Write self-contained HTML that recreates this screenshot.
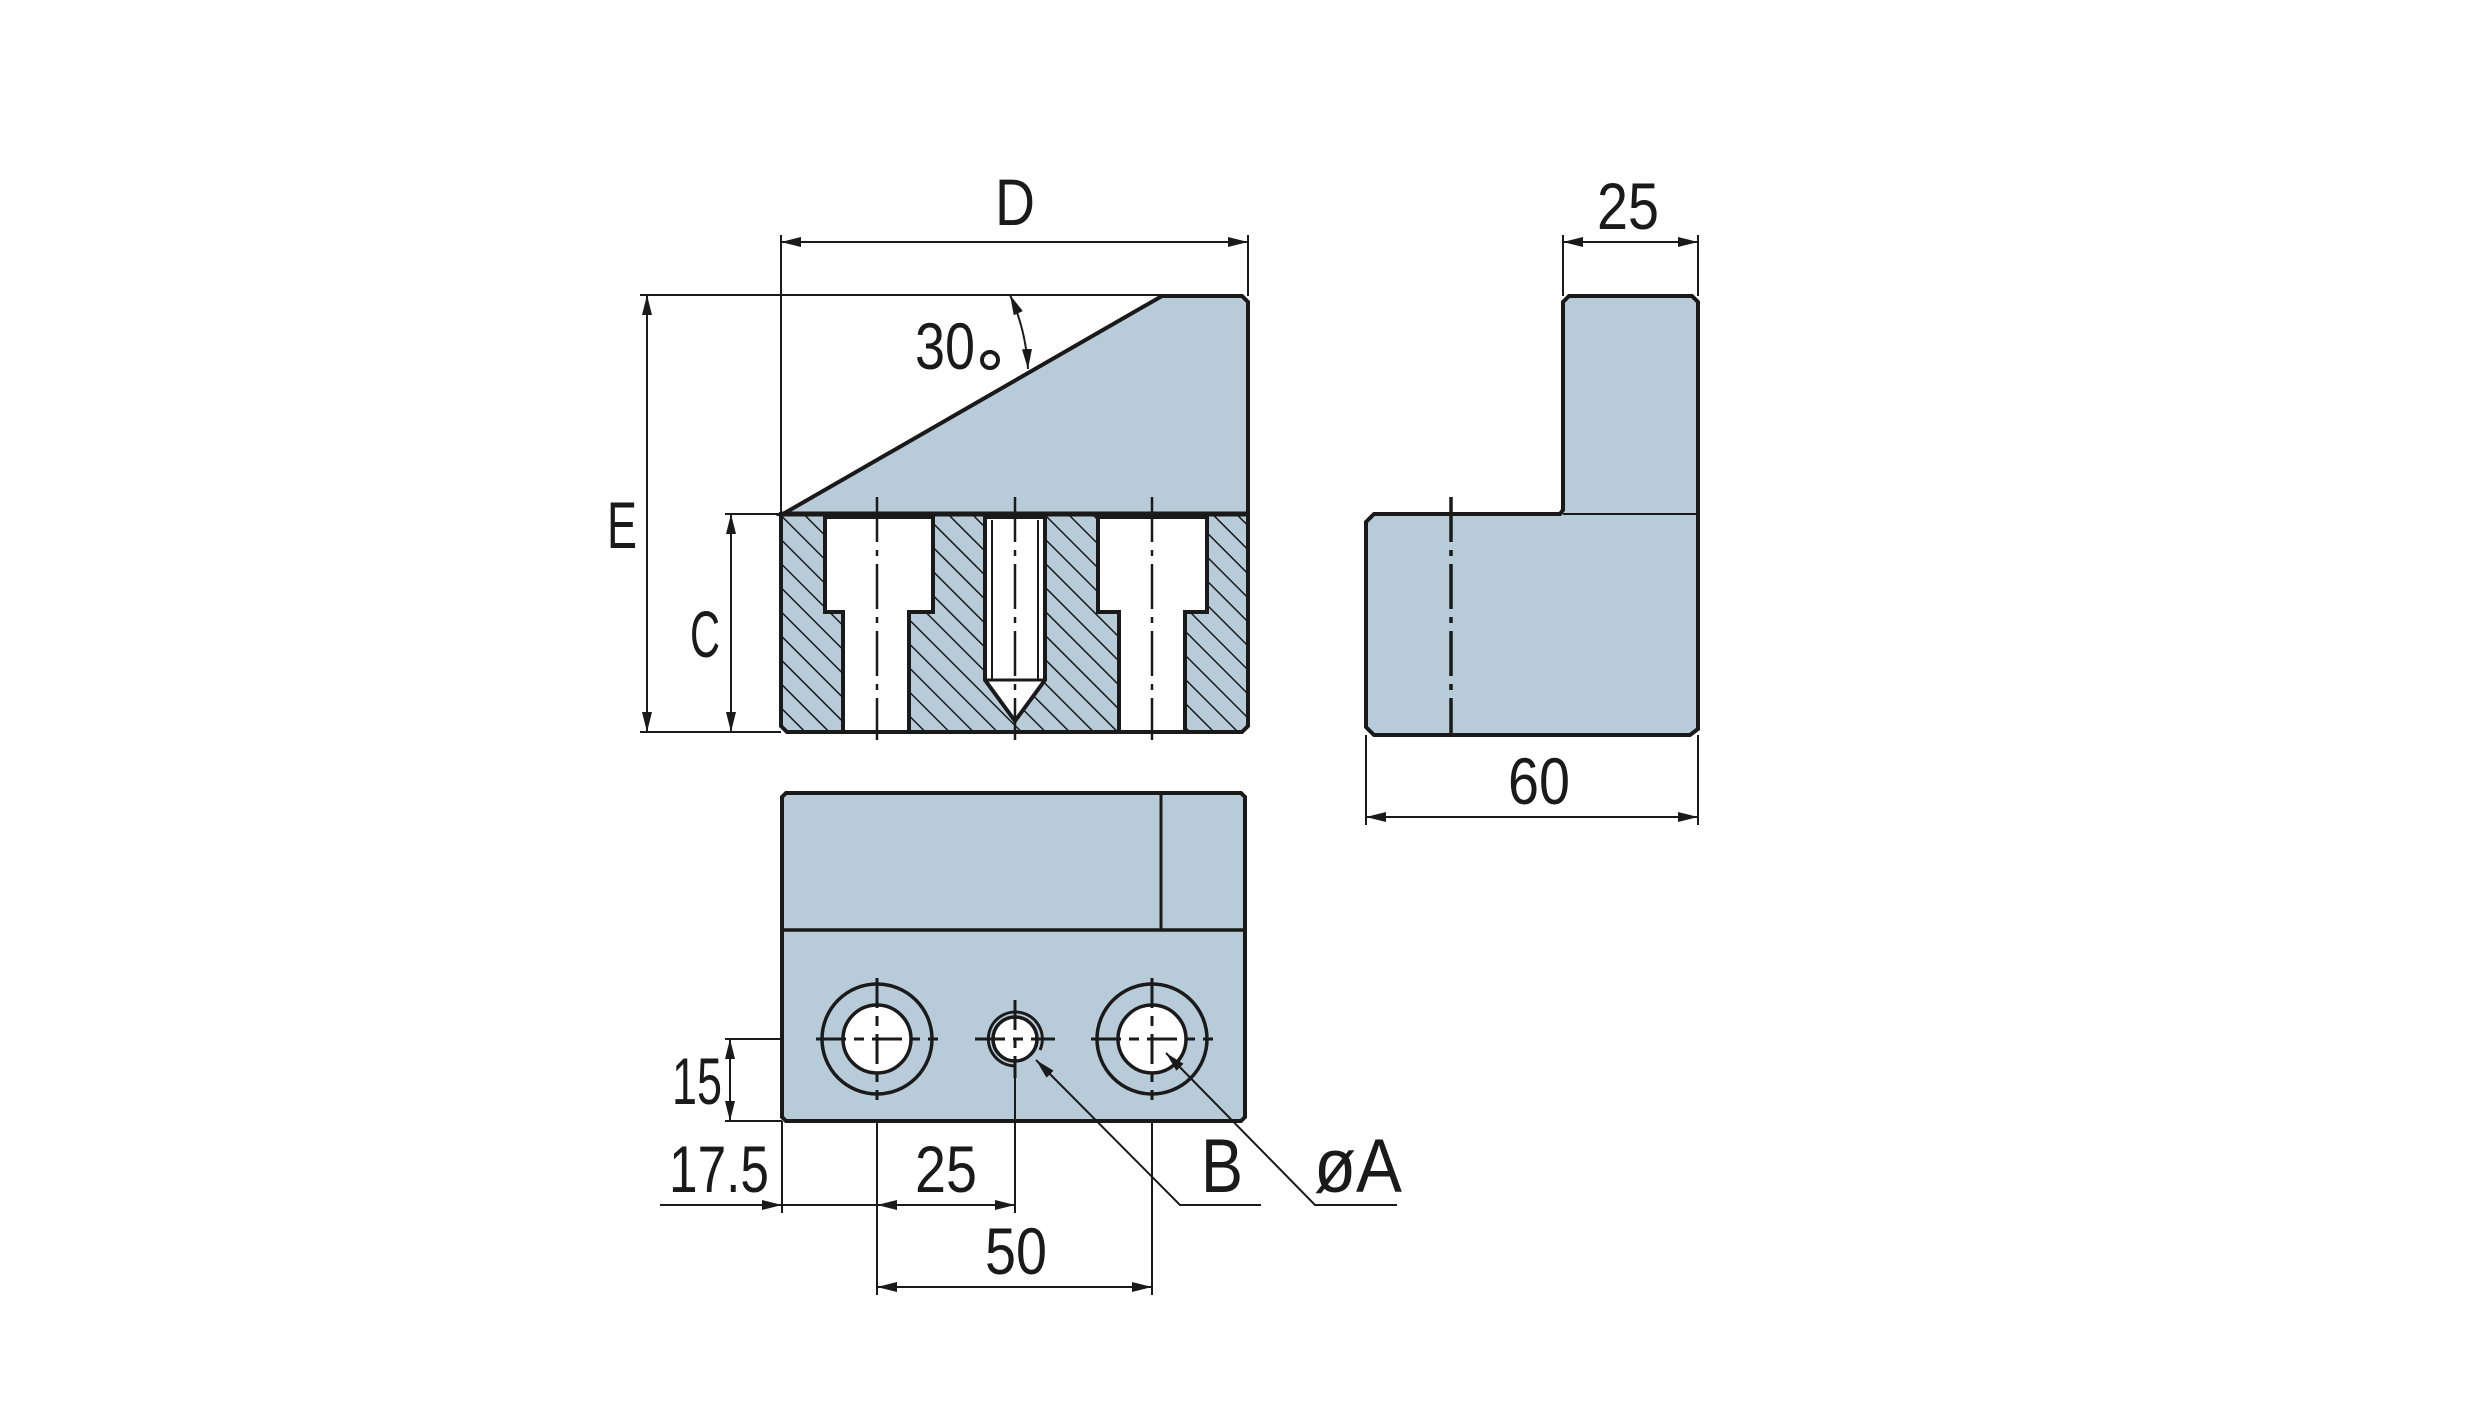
<!DOCTYPE html>
<html><head><meta charset="utf-8"><style>
html,body{margin:0;padding:0;background:#fff;}
svg{display:block;}
text{font-family:"Liberation Sans",sans-serif;fill:#1a1a1a;}
</style></head><body>
<svg width="2480" height="1417" viewBox="0 0 2480 1417" xmlns="http://www.w3.org/2000/svg">
<defs>
<pattern id="h" patternUnits="userSpaceOnUse" width="17" height="17" patternTransform="rotate(-45)">
<rect width="17" height="17" fill="#b8cbd8"/>
<line x1="0" y1="0" x2="0" y2="17" stroke="#1a1a1a" stroke-width="3"/>
</pattern>
<marker id="a" viewBox="0 0 20 10" refX="20" refY="5" markerWidth="20" markerHeight="10" markerUnits="userSpaceOnUse" orient="auto-start-reverse">
<path d="M0,0 L20,5 L0,10 Z" fill="#1a1a1a"/>
</marker>
</defs>

<g stroke="#1a1a1a" fill="none">
<path d="M783,514 L1162,296 L1242,296 L1248,302 L1248,514 Z" fill="#b8cbd8" stroke-width="4"/>
<path d="M781,514 L1248,514 L1248,726 L1242,732 L787,732 L781,726 Z" fill="url(#h)" stroke-width="4"/>
<path d="M825,517 L933,517 L933,612 L909,612 L909,732 L843,732 L843,612 L825,612 Z" fill="#fff" stroke-width="4"/>
<path d="M1098,517 L1207,517 L1207,612 L1185,612 L1185,732 L1119,732 L1119,612 L1098,612 Z" fill="#fff" stroke-width="4"/>
<path d="M985,517 L1045,517 L1045,680 L1015,721 L985,680 Z" fill="#fff" stroke-width="4"/>
<line x1="985" y1="680" x2="1045" y2="680" stroke-width="3"/>
<line x1="992" y1="520" x2="992" y2="680" stroke-width="2"/>
<line x1="1038" y1="520" x2="1038" y2="680" stroke-width="2"/>
<line x1="781" y1="514" x2="1248" y2="514" stroke-width="5"/>

<path d="M1569,296 L1692,296 L1698,302 L1698,729 L1690,735 L1374,735 L1366,727 L1366,522 L1374,514 L1560,514 L1563,510 L1563,302 Z" fill="#b8cbd8" stroke-width="4"/>
<line x1="1563" y1="514" x2="1698" y2="514" stroke-width="2"/>

<g stroke-width="2.5" stroke-dasharray="45,8,6,8">
<line x1="877" y1="497" x2="877" y2="740"/>
<line x1="1015" y1="497" x2="1015" y2="740"/>
<line x1="1152" y1="497" x2="1152" y2="740"/>
<line x1="1451" y1="497" x2="1451" y2="735" stroke-width="3.5"/>
</g>

<path d="M786,793 L1241,793 L1245,797 L1245,1117 L1241,1121 L786,1121 L782,1117 L782,797 Z" fill="#b8cbd8" stroke-width="4"/>
<line x1="782" y1="930" x2="1245" y2="930" stroke-width="3.5"/>
<line x1="1161" y1="793" x2="1161" y2="930" stroke-width="3"/>
<g stroke-width="3.5">
<circle cx="877" cy="1039" r="55"/>
<circle cx="877" cy="1039" r="34" fill="#fff"/>
<circle cx="1152" cy="1039" r="55"/>
<circle cx="1152" cy="1039" r="34" fill="#fff"/>
<circle cx="1015" cy="1039" r="22" fill="#fff"/>
<path d="M1040,1050 A27,27 0 1 0 1015,1066" stroke-width="3"/>
</g>
<g stroke-width="3" stroke-dasharray="30,8,10,8">
<line x1="816" y1="1039" x2="938" y2="1039"/>
<line x1="877" y1="978" x2="877" y2="1100"/>
<line x1="1091" y1="1039" x2="1213" y2="1039"/>
<line x1="1152" y1="978" x2="1152" y2="1100"/>
<line x1="975" y1="1039" x2="1055" y2="1039"/>
<line x1="1015" y1="1000" x2="1015" y2="1078"/>
</g>

<g stroke-width="2">
<line x1="781" y1="235" x2="781" y2="514"/>
<line x1="1248" y1="235" x2="1248" y2="296"/>
<line x1="781" y1="242" x2="1248" y2="242" marker-start="url(#a)" marker-end="url(#a)"/>
<line x1="640" y1="295" x2="1162" y2="295"/>
<line x1="640" y1="732" x2="781" y2="732"/>
<line x1="647" y1="295" x2="647" y2="732" marker-start="url(#a)" marker-end="url(#a)"/>
<line x1="725" y1="514" x2="781" y2="514"/>
<line x1="731" y1="514" x2="731" y2="732" marker-start="url(#a)" marker-end="url(#a)"/>
<path d="M1010,295 Q1026,330 1028,369" marker-start="url(#a)" marker-end="url(#a)"/>
<line x1="1563" y1="235" x2="1563" y2="296"/>
<line x1="1698" y1="235" x2="1698" y2="296"/>
<line x1="1563" y1="242" x2="1698" y2="242" marker-start="url(#a)" marker-end="url(#a)"/>
<line x1="1366" y1="735" x2="1366" y2="825"/>
<line x1="1698" y1="735" x2="1698" y2="825"/>
<line x1="1366" y1="817" x2="1698" y2="817" marker-start="url(#a)" marker-end="url(#a)"/>
<line x1="725" y1="1039" x2="782" y2="1039"/>
<line x1="725" y1="1121" x2="782" y2="1121"/>
<line x1="730" y1="1039" x2="730" y2="1121" marker-start="url(#a)" marker-end="url(#a)"/>
<line x1="782" y1="1121" x2="782" y2="1213"/>
<line x1="877" y1="1121" x2="877" y2="1295"/>
<line x1="1015" y1="1060" x2="1015" y2="1213"/>
<line x1="1152" y1="1121" x2="1152" y2="1295"/>
<line x1="660" y1="1205" x2="782" y2="1205" marker-end="url(#a)"/>
<line x1="782" y1="1205" x2="877" y2="1205"/>
<line x1="877" y1="1205" x2="1015" y2="1205" marker-start="url(#a)" marker-end="url(#a)"/>
<line x1="877" y1="1287" x2="1152" y2="1287" marker-start="url(#a)" marker-end="url(#a)"/>
<polyline points="1261,1205 1180,1205 1036,1060" marker-end="url(#a)"/>
<polyline points="1397,1205 1315,1205 1166,1053" marker-end="url(#a)"/>
</g>
<circle cx="990" cy="360" r="8" stroke-width="4"/>
</g>

<g font-size="66">
<text x="1015" y="225" text-anchor="middle" textLength="40" lengthAdjust="spacingAndGlyphs">D</text>
<text x="1628" y="229" text-anchor="middle" textLength="62" lengthAdjust="spacingAndGlyphs">25</text>
<text x="945" y="369" text-anchor="middle" textLength="60" lengthAdjust="spacingAndGlyphs">30</text>
<text x="622" y="548" text-anchor="middle" textLength="30" lengthAdjust="spacingAndGlyphs">E</text>
<text x="705" y="657" text-anchor="middle" textLength="30" lengthAdjust="spacingAndGlyphs">C</text>
<text x="1539" y="804" text-anchor="middle" textLength="62" lengthAdjust="spacingAndGlyphs">60</text>
<text x="697" y="1104" text-anchor="middle" textLength="50" lengthAdjust="spacingAndGlyphs">15</text>
<text x="719" y="1192" text-anchor="middle" textLength="100" lengthAdjust="spacingAndGlyphs">17.5</text>
<text x="946" y="1192" text-anchor="middle" textLength="62" lengthAdjust="spacingAndGlyphs">25</text>
<text x="1016" y="1274" text-anchor="middle" textLength="62" lengthAdjust="spacingAndGlyphs">50</text>
</g>
<g font-size="76">
<text x="1222" y="1192" text-anchor="middle" textLength="42" lengthAdjust="spacingAndGlyphs">B</text>
<text x="1358" y="1192" text-anchor="middle" textLength="88" lengthAdjust="spacingAndGlyphs">øA</text>
</g>
</svg>
</body></html>
